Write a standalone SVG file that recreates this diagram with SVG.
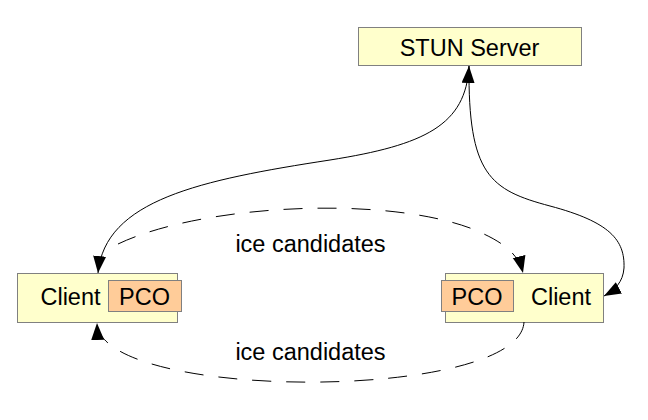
<svg xmlns="http://www.w3.org/2000/svg" width="648" height="420" viewBox="0 0 648 420">
<style>
.box{fill:#ffffcc;stroke:#808080;stroke-width:1}
.pco{fill:#ffcc99;stroke:#808080;stroke-width:1}
text{font-family:"Liberation Sans",Arial,sans-serif;font-size:23.5px;fill:#000}
.edge{fill:none;stroke:#000;stroke-width:1}
.dash{stroke-dasharray:19,15}
</style>
<defs>
<marker id="ah" markerUnits="userSpaceOnUse" markerWidth="18" markerHeight="14" refX="17" refY="6.5" orient="auto-start-reverse">
<path d="M0,0 L17,6.5 L0,13 z" fill="#000"/>
</marker>
</defs>
<rect width="648" height="420" fill="#fff"/>
<g id="stun">
<rect class="box" x="358.5" y="27.5" width="223" height="38"/>
<text x="469.5" y="56" text-anchor="middle">STUN Server</text>
</g>
<g id="client-left">
<rect class="box" x="17.5" y="273.5" width="160" height="49"/>
<text x="70.5" y="305" text-anchor="middle">Client</text>
<g id="pco-left">
<rect class="pco" x="108.5" y="280.5" width="73" height="31"/>
<text x="144.5" y="305" text-anchor="middle">PCO</text>
</g>
</g>
<g id="client-right">
<rect class="box" x="445.5" y="273.5" width="158" height="49"/>
<g id="pco-right">
<rect class="pco" x="441.5" y="280.5" width="72" height="31"/>
<text x="477" y="305" text-anchor="middle">PCO</text>
</g>
<text x="561" y="305" text-anchor="middle">Client</text>
</g>
<g id="connectors">
<path class="edge" d="M469,66 C466,125 425,145 330,160 C200,180 105,200 98,273" marker-start="url(#ah)" marker-end="url(#ah)"/>
<path class="edge" d="M469,66 C468,175 490,190 550,206 C610,222 625,240 624,268 C623,282 615,290 604,296" marker-end="url(#ah)"/>
<path class="edge dash" d="M118,244 C200,205 380,195 470,228 C500,240 518,252 523,273" marker-end="url(#ah)"/>
<path class="edge dash" d="M524,322 C520,402 100,402 97,323" marker-end="url(#ah)"/>
<text x="310.5" y="252" text-anchor="middle">ice candidates</text>
<text x="310.5" y="360" text-anchor="middle">ice candidates</text>
</g>
</svg>
